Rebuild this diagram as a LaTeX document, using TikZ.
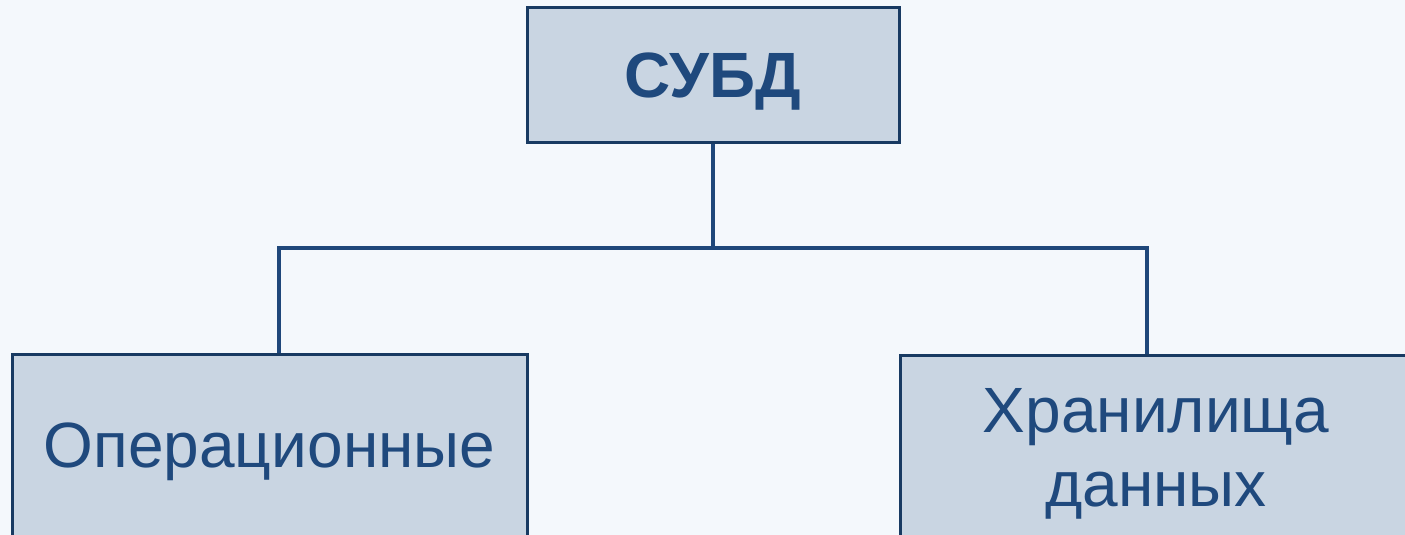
\documentclass[tikz,border=0pt]{standalone}
\usepackage{fontspec}
\setmainfont{Liberation Sans}
\definecolor{bg}{HTML}{F4F8FC}
\definecolor{boxfill}{HTML}{C9D5E2}
\definecolor{boxline}{HTML}{183A62}
\definecolor{conncol}{HTML}{1F477A}
\definecolor{txt}{HTML}{1F497D}
\begin{document}
\begin{tikzpicture}[x=1pt,y=-1pt,
  box/.style={draw=boxline,fill=boxfill,line width=3pt,rectangle,inner sep=0pt,
    text=txt,align=center,font=\fontsize{64}{74}\selectfont},
  conn/.style={draw=conncol,line width=4pt}]
\useasboundingbox (0,0) rectangle (1405,535);
\fill[bg] (0,0) rectangle (1405,535);
\clip (0,0) rectangle (1405,535);
\node[box,minimum width=372pt,minimum height=134pt,font=\fontsize{64}{74}\selectfont\bfseries,text depth=0pt] (top) at (713,75) {СУБД};
\node[box,minimum width=515pt,minimum height=196pt] (left) at (269.5,452) {Операционные};
\node[box,minimum width=512pt,minimum height=198pt] (right) at (1156,454) {Хранилища\\данных};
\coordinate (bus) at (713,248);
\draw[conn] (top.south) -- (bus);
\draw[conn] (bus) -| ([xshift=9.5pt]left.north);
\draw[conn] (bus) -| ([xshift=-9pt]right.north);
\end{tikzpicture}
\end{document}
